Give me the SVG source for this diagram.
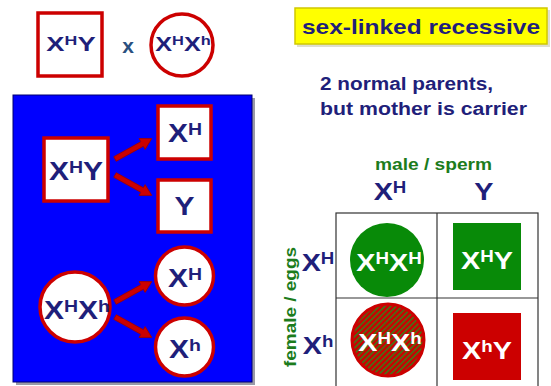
<svg xmlns="http://www.w3.org/2000/svg" xmlns:xlink="http://www.w3.org/1999/xlink" width="551" height="386" viewBox="0 0 551 386">
  <style>
    text { font-family: "Liberation Sans", Arial, sans-serif; font-weight: bold; }
    .navy { fill: #1f1f7a; }
    .white { fill: #ffffff; }
    .green-t { fill: #1c7c1c; }
    .sq { fill: #ffffff; stroke: #cc0000; stroke-width: 3.5; }
    .ci { fill: #ffffff; stroke: #cc0000; stroke-width: 3.5; }
    .grid { fill: none; stroke: #333333; stroke-width: 1.2; }
    .sup { font-size: 0.65em; }
    /* genotype labels are set in a broad face: widen around their own centre */
    .w { transform-box: fill-box; transform-origin: center; transform: scaleX(1.2); }
    .w13 { transform-box: fill-box; transform-origin: center; transform: scaleX(1.3); }
  </style>
  <defs>
    <pattern id="hatch" width="4" height="4" patternUnits="userSpaceOnUse" patternTransform="rotate(-45)">
      <rect width="4" height="4" fill="#cc0000"/>
      <rect width="4" height="1.4" fill="#2a8a1a"/>
    </pattern>
    <!-- thick red arrow pointing along +x -->
    <path id="arrow" d="M0,-2.6 L31,-2.6 L31,-6.2 L42,0 L31,6.2 L31,2.6 L0,2.6 Z" fill="#cc0000" stroke="#a00000" stroke-width="0.8"/>
  </defs>

  <rect width="551" height="386" fill="#ffffff"/>

  <!-- parents -->
  <g id="father">
    <rect class="sq" x="38" y="13" width="64" height="63"/>
    <text class="navy w13" x="71" y="51" font-size="21" text-anchor="middle">X<tspan class="sup" dy="-5.5">H</tspan><tspan dy="5.5">Y</tspan></text>
  </g>
  <text x="128" y="53" font-size="21" text-anchor="middle" fill="#2a5080">x</text>
  <g id="mother">
    <circle class="ci" cx="182" cy="45" r="31"/>
    <text class="navy w" x="183" y="51" font-size="21" text-anchor="middle">X<tspan class="sup" dy="-5.5">H</tspan><tspan dy="5.5">X</tspan><tspan class="sup" dy="-5.5">h</tspan></text>
  </g>

  <!-- gamete panel -->
  <g id="panel">
    <rect x="16" y="98" width="239" height="287" fill="#9a9aa8"/>
    <rect x="13" y="95" width="239" height="287" fill="#0000ff" stroke="#000070" stroke-width="1"/>
  </g>

  <g id="male-parent">
    <rect class="sq" x="44" y="138" width="64" height="63"/>
    <text class="navy w" x="76" y="180" font-size="25" text-anchor="middle">X<tspan class="sup" dy="-6.5">H</tspan><tspan dy="6.5">Y</tspan></text>
  </g>
  <g id="sperm-XH">
    <rect class="sq" x="158" y="106" width="53" height="53"/>
    <text class="navy w" x="185" y="142" font-size="25" text-anchor="middle">X<tspan class="sup" dy="-6.5">H</tspan></text>
  </g>
  <g id="sperm-Y">
    <rect class="sq" x="158" y="180" width="53" height="52"/>
    <text class="navy w" x="184.5" y="215" font-size="25" text-anchor="middle">Y</text>
  </g>
  <g id="female-parent">
    <circle class="ci" cx="75" cy="307" r="35"/>
    <text class="navy w" x="77" y="319" font-size="25" text-anchor="middle">X<tspan class="sup" dy="-6.5">H</tspan><tspan dy="6.5">X</tspan><tspan class="sup" dy="-6.5">h</tspan></text>
  </g>
  <g id="egg-XH">
    <circle class="ci" cx="184.5" cy="276" r="29"/>
    <text class="navy w" x="185" y="287" font-size="25" text-anchor="middle">X<tspan class="sup" dy="-6.5">H</tspan></text>
  </g>
  <g id="egg-Xh">
    <circle class="ci" cx="184.5" cy="347" r="29"/>
    <text class="navy w" x="185" y="358" font-size="25" text-anchor="middle">X<tspan class="sup" dy="-6.5">h</tspan></text>
  </g>

  <g id="connectors">
    <use xlink:href="#arrow" transform="translate(115,159) rotate(-29)"/>
    <use xlink:href="#arrow" transform="translate(115,175) rotate(29)"/>
    <use xlink:href="#arrow" transform="translate(115,302) rotate(-29)"/>
    <use xlink:href="#arrow" transform="translate(115,317) rotate(29)"/>
  </g>

  <!-- title -->
  <g id="title">
    <rect x="297" y="10" width="253" height="37" fill="#c8c8b0" opacity="0.6"/>
    <rect x="295" y="8" width="252" height="36" fill="#ffff00" stroke="#d0c800" stroke-width="1.5"/>
    <text class="navy" x="302" y="34" font-size="21" textLength="238" lengthAdjust="spacingAndGlyphs">sex-linked recessive</text>
  </g>
  <g id="note">
    <text class="navy" x="320" y="90" font-size="18" textLength="173" lengthAdjust="spacingAndGlyphs">2 normal parents,</text>
    <text class="navy" x="320" y="115" font-size="18" textLength="207" lengthAdjust="spacingAndGlyphs">but mother is carrier</text>
  </g>

  <!-- Punnett square -->
  <g id="punnett-labels">
    <text class="green-t" x="375" y="170" font-size="16" textLength="117" lengthAdjust="spacingAndGlyphs">male / sperm</text>
    <text class="navy w" x="390" y="200" font-size="24" text-anchor="middle">X<tspan class="sup" dy="-6.5">H</tspan></text>
    <text class="navy w" x="484" y="200" font-size="24" text-anchor="middle">Y</text>
    <text class="navy w" x="318" y="271" font-size="24" text-anchor="middle">X<tspan class="sup" dy="-6.5">H</tspan></text>
    <text class="navy w" x="318" y="354" font-size="24" text-anchor="middle">X<tspan class="sup" dy="-6.5">h</tspan></text>
    <text class="green-t" transform="translate(296,367) rotate(-90)" x="0" y="0" font-size="16" textLength="120" lengthAdjust="spacingAndGlyphs">female / eggs</text>
  </g>
  <g id="punnett-grid">
    <rect class="grid" x="336" y="213" width="202" height="180"/>
    <line class="grid" x1="437" y1="213" x2="437" y2="386"/>
    <line class="grid" x1="336" y1="298" x2="538" y2="298"/>
  </g>
  <g id="cell-XHXH">
    <circle cx="387" cy="260" r="37" fill="#088a08"/>
    <text class="white w" x="389" y="271" font-size="24" text-anchor="middle">X<tspan class="sup" dy="-6.5">H</tspan><tspan dy="6.5">X</tspan><tspan class="sup" dy="-6.5">H</tspan></text>
  </g>
  <g id="cell-XHY">
    <rect x="453" y="223" width="68" height="67" fill="#088a08"/>
    <text class="white w" x="487" y="269" font-size="24" text-anchor="middle">X<tspan class="sup" dy="-6.5">H</tspan><tspan dy="6.5">Y</tspan></text>
  </g>
  <g id="cell-XHXh">
    <circle cx="388" cy="340" r="36" fill="url(#hatch)" stroke="#cc0000" stroke-width="3"/>
    <text class="white w" x="390" y="351" font-size="24" text-anchor="middle">X<tspan class="sup" dy="-6.5">H</tspan><tspan dy="6.5">X</tspan><tspan class="sup" dy="-6.5">h</tspan></text>
  </g>
  <g id="cell-XhY">
    <rect x="453" y="313" width="68" height="67" fill="#cc0000"/>
    <text class="white w" x="487" y="359" font-size="24" text-anchor="middle">X<tspan class="sup" dy="-6.5">h</tspan><tspan dy="6.5">Y</tspan></text>
  </g>
</svg>
